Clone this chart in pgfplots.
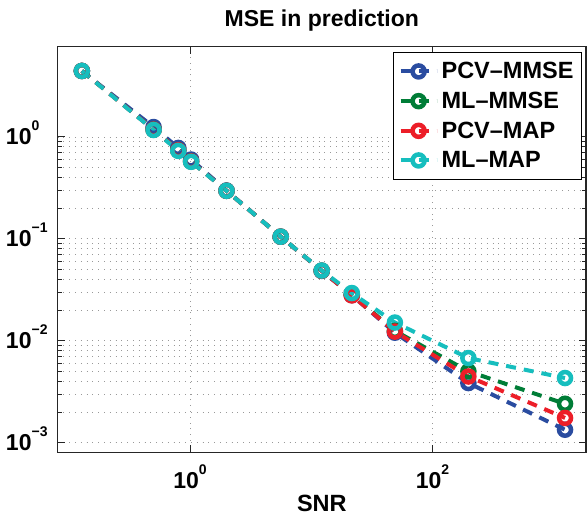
\documentclass[border=0pt]{standalone}
\usepackage{fontspec}
\setmainfont{Liberation Sans}
\usepackage{pgfplots}
\pgfplotsset{compat=1.18}

\definecolor{cblue}{RGB}{42,76,160}
\definecolor{cgreen}{RGB}{0,125,55}
\definecolor{cred}{RGB}{236,30,40}
\definecolor{ccyan}{RGB}{22,190,190}

\newcommand{\lbl}[1]{\textbf{10\raisebox{14pt}{\fontsize{14}{14}\selectfont\bfseries #1}}}

\begin{document}
\begin{tikzpicture}
\begin{axis}[
    scale only axis,
    width=528.3pt, height=405.6pt,
    xmode=log, ymode=log,
    xmin=0.0809, xmax=1850,
    ymin=8.05e-4, ymax=7.68,
    xtick={1,100}, xticklabels={\lbl{0},\lbl{2}},
    ytick={1e-3,1e-2,1e-1,1},
    yticklabels={\lbl{−3},\lbl{−2},\lbl{−1},\lbl{0}},
    xminorticks=false,
    xmajorgrids, ymajorgrids, yminorgrids,
    major grid style={gray!80, line width=0.8pt, dash pattern=on 0.8pt off 5pt},
    minor grid style={gray!80, line width=0.8pt, dash pattern=on 0.8pt off 5pt},
    axis line style={black!85, line width=1.5pt},
    tick style={black!85, line width=1pt},
    major tick length=7pt, minor tick length=4pt,
    tick align=inside,
    font=\fontsize{23}{23}\selectfont\bfseries,
    xticklabel style={anchor=base, inner sep=0pt, yshift=-35.7pt},
    yticklabel style={anchor=base west, inner sep=0pt, xshift=-51.9pt, yshift=-8pt},
    title={MSE in prediction},
    title style={at={(axis description cs:0.5,1)}, anchor=base, inner sep=0pt, yshift=14pt, font=\fontsize{23}{23}\selectfont\bfseries},
    xlabel={SNR},
    xlabel style={at={(axis description cs:0.5,0)}, anchor=base, inner sep=0pt, yshift=-59.5pt, font=\fontsize{23.5}{23.5}\selectfont\bfseries},
    legend style={at={(rel axis cs:0.9924,0.987)}, anchor=north east,
        draw=black, line width=1pt, fill=white,
        font=\fontsize{23.5}{28.8}\selectfont\bfseries,
        inner xsep=5pt, inner ysep=8pt, row sep=7.8pt,
        nodes={inner xsep=3pt}},
    legend cell align=left,
    legend image code/.code={
        \draw[mark repeat=2, mark phase=2] plot coordinates {(0pt,0pt) (18pt,0pt) (36pt,0pt)};
    },
    every axis plot/.append style={line width=4pt, dash pattern=on 10pt off 8pt,
        mark=o, mark size=6pt, mark options={solid, line width=4.5pt}},
]
\addplot[cblue] coordinates {
(0.128,4.44) (0.50,1.25) (0.80,0.78) (1.02,0.60) (2.0,0.298) (5.6,0.105)
(12.2,0.0485) (21.6,0.0280) (49,0.0120) (198,0.00385) (1242,0.00134)
};
\addlegendentry{PCV--MMSE}
\addplot[cgreen] coordinates {
(0.128,4.44) (0.50,1.18) (0.80,0.74) (1.02,0.575) (2.0,0.296) (5.6,0.105)
(12.2,0.0487) (21.6,0.0284) (49,0.0125) (198,0.00501) (1242,0.00241)
};
\addlegendentry{ML--MMSE}
\addplot[cred] coordinates {
(0.128,4.44) (0.50,1.18) (0.80,0.74) (1.02,0.575) (2.0,0.296) (5.6,0.105)
(12.2,0.0487) (21.6,0.0279) (49,0.0123) (198,0.00446) (1242,0.00175)
};
\addlegendentry{PCV--MAP}
\addplot[ccyan] coordinates {
(0.128,4.44) (0.50,1.17) (0.80,0.73) (1.02,0.57) (2.0,0.296) (5.6,0.105)
(12.2,0.0489) (21.6,0.0294) (49,0.0151) (198,0.00677) (1242,0.00431)
};
\addlegendentry{ML--MAP}
\end{axis}
\pgfresetboundingbox
\path (current axis.south west) ++(-57.7pt,-63.7pt) rectangle ++(587pt,516pt);
\end{tikzpicture}
\end{document}
